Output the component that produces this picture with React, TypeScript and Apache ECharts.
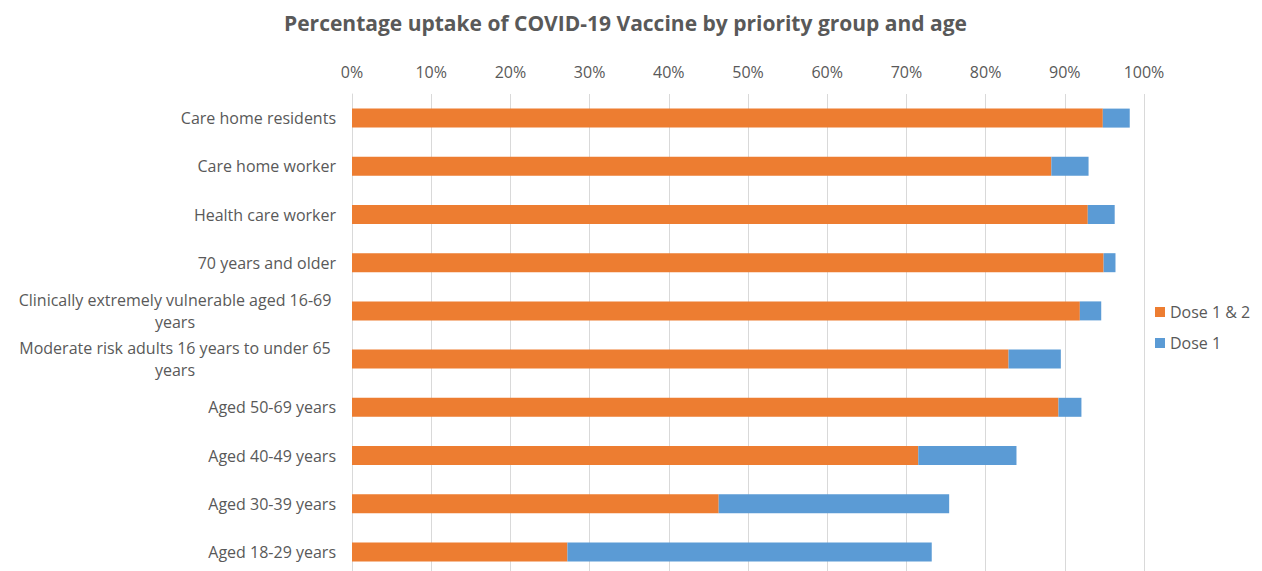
import React, { useEffect, useRef } from "react";
import * as echarts from "echarts";

const categories = [
  "Care home residents",
  "Care home worker",
  "Health care worker",
  "70 years and older",
  "Clinically extremely vulnerable aged 16-69 years",
  "Moderate risk adults 16 years to under 65 years",
  "Aged 50-69 years",
  "Aged 40-49 years",
  "Aged 30-39 years",
  "Aged 18-29 years",
];
const dose12 = [94.8, 88.3, 92.9, 94.9, 91.9, 82.9, 89.2, 71.5, 46.3, 27.2];
const dose1 = [3.4, 4.7, 3.4, 1.5, 2.7, 6.6, 2.9, 12.4, 29.1, 46.0];
const wrapped: Record<string, string[]> = {
  "Clinically extremely vulnerable aged 16-69 years": ["Clinically extremely vulnerable aged 16-69", "years"],
  "Moderate risk adults 16 years to under 65 years": ["Moderate risk adults 16 years to under 65", "years"],
};

const FONT = "'Open Sans', 'Liberation Sans', sans-serif";
const GREY = "#595959";

export default function App() {
  const ref = useRef<HTMLDivElement>(null);
  useEffect(() => {
    if (!ref.current) return;
    const chart = echarts.init(ref.current, undefined, { renderer: "svg" });
    chart.setOption({
      animation: false,
      textStyle: { fontFamily: FONT },
      title: {
        text: "Percentage uptake of COVID-19 Vaccine by priority group and age",
        left: 279,
        top: 7,
        textStyle: { fontFamily: FONT, fontSize: 21, fontWeight: "bold", color: GREY },
      },
      legend: {
        orient: "vertical",
        left: 1150,
        top: 299,
        itemWidth: 10,
        itemHeight: 10,
        itemGap: 15,
        icon: "rect",
        textStyle: { fontFamily: FONT, fontSize: 16, color: GREY },
        data: ["Dose 1 & 2", "Dose 1"],
      },
      grid: { left: 352, top: 94, width: 792, height: 482, containLabel: false },
      xAxis: {
        type: "value",
        position: "top",
        min: 0,
        max: 100,
        interval: 10,
        axisLine: { show: false },
        axisTick: { show: false },
        axisLabel: { formatter: "{value}%", fontFamily: FONT, fontSize: 16, color: GREY, margin: 14 },
        splitLine: { lineStyle: { color: "#d9d9d9", width: 1 } },
      },
      yAxis: {
        type: "category",
        inverse: true,
        data: categories,
        axisLine: { show: true, lineStyle: { color: "#d9d9d9" } },
        axisTick: { show: false },
        axisLabel: {
          fontFamily: FONT,
          fontSize: 16,
          color: GREY,
          margin: 16,
          align: "right",
          formatter: (v: string) => {
            const w = wrapped[v];
            if (w) return w.map((l) => `{c|${l}}`).join("\n");
            return v;
          },
          rich: {
            c: { width: 322, align: "center", fontFamily: FONT, fontSize: 16, color: GREY, lineHeight: 22 },
          },
        },
      },
      series: [
        {
          name: "Dose 1 & 2",
          type: "bar",
          stack: "total",
          barWidth: 19,
          itemStyle: { color: "#ED7D31" },
          data: dose12,
        },
        {
          name: "Dose 1",
          type: "bar",
          stack: "total",
          barWidth: 19,
          itemStyle: { color: "#5B9BD5" },
          data: dose1,
        },
      ],
    });
    return () => chart.dispose();
  }, []);
  return (
    <div
      ref={ref}
      style={{ position: "fixed", left: 0, top: 0, width: 1262, height: 620, background: "#fff" }}
    />
  );
}
